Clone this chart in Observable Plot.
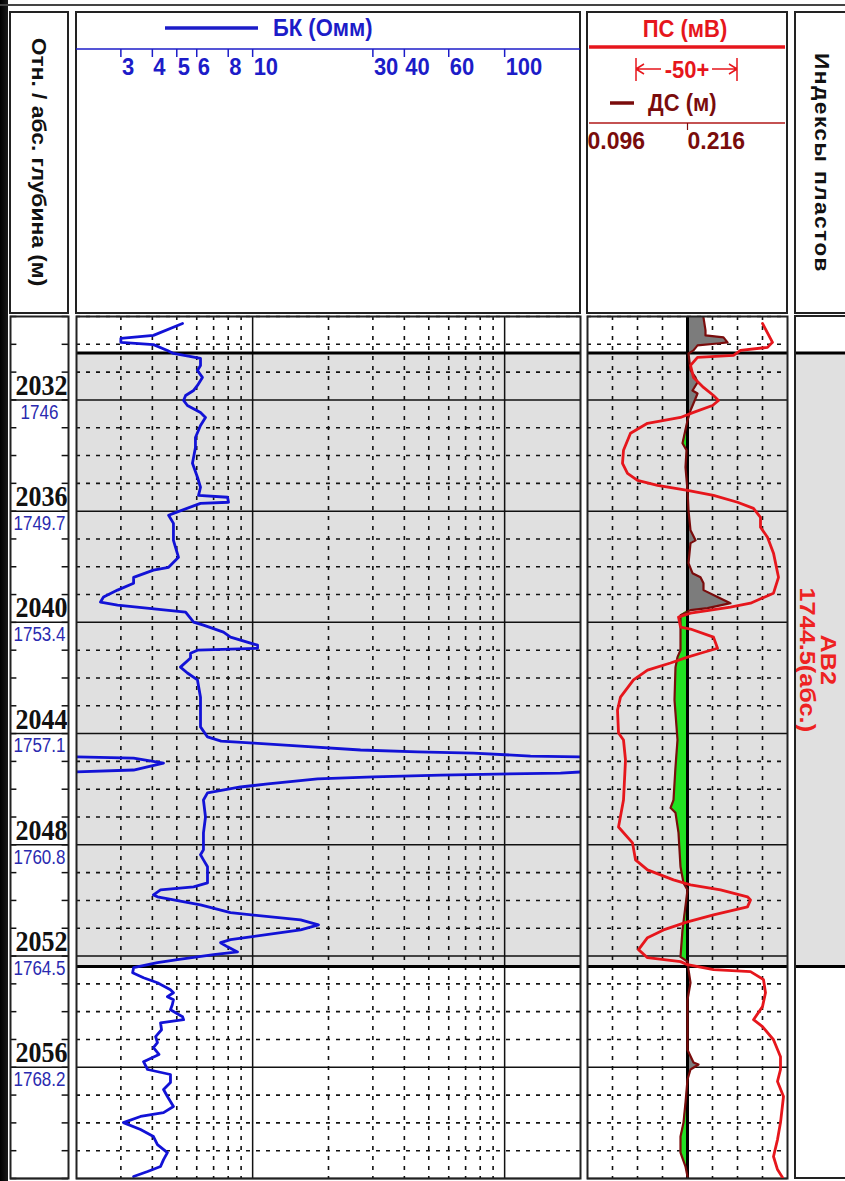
<!DOCTYPE html>
<html><head><meta charset="utf-8">
<script src="https://cdn.jsdelivr.net/npm/d3@7"></script>
<script src="https://cdn.jsdelivr.net/npm/@observablehq/plot@0.6"></script>
<style>
body{margin:0;background:#fff;}
#root{position:relative;width:845px;height:1181px;overflow:hidden;background:#fff;font-family:"Liberation Sans",Arial,sans-serif;}
</style></head><body><div id="root"></div>
<script>
// ---------------- DATA ----------------
const depthDomain = [2029, 2060];
const bkDomain = [2, 200];            // БК, Ом·м, log scale
const dsDomain = [0.096, 0.336];      // ДС, м
const psDomain = [-100, 0];           // ПС, мВ (50 мВ per half-track)
const bitSize = 0.216;

const bkDepth = [2029.25,2029.68,2029.79,2029.93,2030.01,2030.22,2030.33,2030.51,2030.76,2030.94,
2031.19,2031.48,2031.66,2031.84,2032.02,2032.20,2032.45,2032.63,2032.92,2033.35,
2033.71,2034.28,2034.78,2035.14,2035.43,2035.50,2035.68,2035.72,2036.08,2036.15,
2036.44,2037.05,2037.66,2038.02,2038.12,2038.38,2038.59,2038.84,2039.09,2039.27,
2039.38,2039.63,2039.99,2040.10,2040.35,2040.53,2040.82,2040.93,2041.00,2041.11,
2041.28,2041.61,2041.82,2042.07,2042.69,2043.76,2044.12,2044.27,2044.34,2044.45,
2044.59,2044.66,2044.70,2044.81,2044.84,2044.88,2045.06,2045.31,2045.38,2045.42,
2045.49,2045.56,2045.63,2045.81,2045.92,2046.13,2046.39,2047.00,2047.57,2048.18,
2048.36,2048.54,2048.79,2049.37,2049.51,2049.62,2049.80,2049.87,2050.16,2050.44,
2050.70,2050.88,2051.06,2051.41,2051.52,2051.67,2051.85,2051.95,2052.13,2052.24,
2052.42,2052.60,2052.78,2052.96,2053.21,2053.32,2053.46,2053.57,2053.75,2053.93,
2054.18,2054.29,2054.40,2054.65,2054.90,2055.11,2055.29,2055.54,2055.80,2056.08,
2056.26,2056.55,2056.80,2057.05,2057.41,2057.63,2057.77,2057.99,2058.24,2058.49,
2058.78,2059.07,2059.32,2059.57,2059.75,2059.93];
const bkValue = [5.27,4.04,3.0,3.0,4.04,4.59,4.85,6.21,6.21,6.04,
6.32,6.04,5.83,5.42,5.32,5.51,6.21,6.50,6.21,5.93,
5.93,5.77,6.04,6.21,6.10,7.95,8.02,6.21,4.85,4.64,
4.85,4.85,5.08,4.64,4.04,3.37,3.37,2.91,2.56,2.49,
2.91,5.42,5.83,6.38,7.66,8.17,10.46,10.46,6.04,5.67,
5.67,5.17,5.51,6.04,6.21,6.21,6.62,7.5,10.1,15.5,
26.8,45.1,75.2,126.7,200,337,443,337,200,166.6,
55.7,30.2,18.1,11.5,8.95,6.62,6.38,6.50,6.38,6.38,
6.21,6.38,6.62,6.62,5.83,4.31,4.04,4.19,6.21,8.17,
15.5,18.25,15.5,8.17,7.46,7.95,8.71,7.00,5.03,4.19,
3.37,3.34,3.69,4.19,4.72,4.85,4.59,4.85,4.80,4.72,
5.27,5.32,4.31,4.35,4.12,4.19,4.04,4.25,3.69,3.83,
4.72,4.72,4.43,4.59,4.85,4.43,3.59,3.07,3.59,4.04,
4.19,4.59,4.43,4.31,3.83,3.37];

const psDepth = [2029.25,2029.93,2030.11,2030.22,2030.40,2030.47,2030.76,2031.19,2031.55,2031.84,
2032.02,2032.20,2032.45,2032.63,2032.84,2033.20,2033.81,2034.28,2034.64,2034.89,
2035.07,2035.25,2035.43,2035.68,2035.90,2036.22,2036.58,2036.94,2037.51,2038.38,
2038.95,2039.31,2039.45,2039.67,2039.81,2040.17,2040.24,2040.53,2040.93,2041.11,
2041.25,2041.46,2041.72,2042.07,2042.69,2043.15,2043.98,2044.23,2044.95,2046.39,
2047.36,2047.93,2048.54,2048.90,2049.26,2049.44,2049.62,2049.87,2049.98,2050.23,
2050.52,2050.77,2051.06,2051.34,2051.77,2052.06,2052.20,2052.31,2052.49,2052.56,
2052.85,2053.32,2053.82,2054.29,2054.54,2055.01,2055.62,2056.08,2056.51,2057.05,
2057.99,2058.60,2059.21,2059.68,2059.96];
const psValue = [-12.5,-7.5,-10,-23.5,-27,-45,-48.5,-47,-42,-37,
-34.5,-37.5,-47,-53.5,-70,-78.5,-82,-82.5,-80,-75,
-65,-50,-37,-25,-17,-13.5,-13.5,-10,-7,-4.5,
-7,-18.5,-28.5,-48.5,-54.5,-53.5,-48.5,-37,-35,-43.5,
-50,-58.5,-70,-77,-83.5,-85,-84.5,-82,-81,-82,
-84.5,-77.5,-76,-70,-57,-48.5,-33.5,-20,-18.5,-20,
-37,-50,-62,-70,-74.5,-70,-53.5,-50,-37,-18.5,
-12,-11,-12.5,-17,-12.5,-7,-3.5,-3.5,-5,-2,
-3.5,-5,-7,-5,-2.5];

const dsDepth = [2029.04,2029.50,2029.68,2029.75,2029.93,2029.97,2030.04,2030.22,2030.33,2030.94,
2031.19,2031.37,2031.66,2031.77,2031.95,2032.38,2032.74,2033.56,2033.81,2034.42,
2035.25,2035.97,2036.69,2037.05,2037.15,2037.87,2038.23,2038.38,2038.59,2038.84,
2039.09,2039.31,2039.49,2039.56,2039.74,2040.17,2041.00,2041.25,2041.61,2042.79,
2044.23,2045.20,2046.39,2046.67,2046.85,2047.57,2048.79,2049.37,2049.62,2051.06,
2052.03,2052.20,2052.49,2052.96,2053.57,2055.37,2055.83,2055.90,2056.08,2056.44,
2057.27,2057.99,2058.49,2059.07,2059.57,2059.93];
const dsValue = [.2352,.2376,.2376,.2592,.264,.252,.228,.2232,.2172,.2196,
.2256,.228,.222,.228,.2256,.2196,.216,.210,.2148,.2136,
.216,.2172,.2196,.2256,.2196,.2172,.222,.2316,.2352,.2352,
.252,.2676,.240,.2196,.2076,.2076,.2076,.204,.2016,.2004,
.204,.2016,.1992,.1956,.2016,.2052,.2076,.2112,.216,.210,
.2076,.216,.2172,.2196,.216,.216,.2232,.2292,.2196,.216,
.2136,.2112,.2076,.2076,.2136,.216];

const relDepthLabels = [2032,2036,2040,2044,2048,2052,2056];
const absDepthLabels = ["1746","1749.7","1753.4","1757.1","1760.8","1764.5","1768.2"];
const bkTicks = [3,4,5,6,8,10,30,40,60,100];
const bkGridMinor = [3,4,5,6,7,8,9,20,30,40,50,60,70,80,90];
const bkGridMajor = [10,100];
const dsTicks = [0.096, 0.216];
const dsGrid = [0.126,0.156,0.186,0.246,0.276,0.306];
const formations = [{name:"АВ2", topAbs:"1744.5(абс.)", top:2030.31, bottom:2052.38}];

// ---------------- STYLE ----------------
const H = 862, TOP = 316;
const blue = "#1c1cc8", bkColor = "#1212d6", red = "#e6161c", dsColor = "#7a0c0c";
const band = "#e0e0e0";
const SANS = '"Liberation Sans",Arial,sans-serif';

const bk = bkDepth.map((d,i)=>({d, v: bkValue[i]}));
const bkWrap = bk.filter(p => p.v >= bkDomain[1]).map(p => ({d: p.d, v: p.v / 100}));
const ps = psDepth.map((d,i)=>({d, v: psValue[i]}));
const ds = dsDepth.map((d,i)=>({d, v: dsValue[i]}));
const meters = d3.range(depthDomain[0], depthDomain[1] + 1);
const minorM = meters.filter(m => m % 4 !== 0);
const majorM = meters.filter(m => m % 4 === 0);
const depthMarks = relDepthLabels.map((r,i)=>({rel:r, abs:absDepthLabels[i]}));

const root = document.getElementById("root");
function place(node, left, top) {
  node.style.position = "absolute"; node.style.left = left + "px"; node.style.top = top + "px";
  root.appendChild(node); return node;
}
function stretch(svg, sx, sy) {
  svg.querySelectorAll("text").forEach(t => {
    const tr = t.getAttribute("transform") || "";
    t.setAttribute("transform", tr + ` scale(${sx},${sy})`);
  });
}
const yScale = {domain: depthDomain, range: [0, H], axis: null};
const pstyle = {overflow: "visible", background: "none"};
const dash = {stroke: "#111", strokeWidth: 1.6, strokeDasharray: "4,6"};

// left dark strip
const strip = document.createElement("div");
strip.style.cssText = "width:8px;height:1181px;background:linear-gradient(90deg,#000,#1a1a1a);";
place(strip, 0, 0);

// ---------------- HEADER ----------------
const hdr = d3.create("svg").attr("width", 845).attr("height", 316);
hdr.append("line").attr("x1",0).attr("x2",845).attr("y1",5).attr("y2",5).attr("stroke","#444").attr("stroke-width",2);
[[10,58],[76,504],[587,200],[795,70]].forEach(([x,w]) =>
  hdr.append("rect").attr("x",x).attr("y",12).attr("width",w).attr("height",301)
     .attr("fill","none").attr("stroke","#222").attr("stroke-width",2));
function txt(x, y, s, o = {}) {
  const st = o.s || 1.08;
  return hdr.append("text").attr("transform", `translate(${x},${y}) ${o.rot ? "rotate(90) scale(" + st + ",1)" : "scale(1," + st + ")"}`)
    .attr("text-anchor", o.anchor || "middle").attr("dominant-baseline", "central")
    .attr("font-family", SANS).attr("font-weight", "bold")
    .attr("font-size", o.size || 18).attr("fill", o.fill || "#111").attr("letter-spacing", o.ls || 0).text(s);
}
txt(39, 162, "Отн. / абс. глубина (м)", {rot: true, size: 20, s: 1.14});
txt(822, 163, "Индексы  пластов", {rot: true, size: 20, ls: 1.2, s: 1.14});
// BK legend
hdr.append("line").attr("x1",165).attr("x2",258).attr("y1",28).attr("y2",28).attr("stroke",blue).attr("stroke-width",3.5);
txt(273, 28, "БК (Омм)", {anchor: "start", fill: blue, size: 22});
hdr.append("line").attr("x1",76).attr("x2",580).attr("y1",49).attr("y2",49).attr("stroke",blue).attr("stroke-width",1.5);
// PS legend
txt(685, 29, "ПС (мВ)", {fill: red, size: 22});
hdr.append("line").attr("x1",589).attr("x2",785).attr("y1",47).attr("y2",47).attr("stroke",red).attr("stroke-width",3.5);
const ar = hdr.append("g").attr("stroke", red).attr("stroke-width", 1.5).attr("fill", "none");
ar.append("path").attr("d", "M636,58V81M636,69H661M636,69l8,-5M636,69l8,5");
ar.append("path").attr("d", "M737,58V81M737,69H712M737,69l-8,-5M737,69l-8,5");
txt(687, 70, "-50+", {fill: red, size: 22});
hdr.append("line").attr("x1",610).attr("x2",634).attr("y1",103).attr("y2",103).attr("stroke",dsColor).attr("stroke-width",3.5);
txt(648, 103, "ДС (м)", {anchor: "start", fill: dsColor, size: 22});
hdr.append("line").attr("x1",589).attr("x2",785).attr("y1",123).attr("y2",123).attr("stroke","#b01818").attr("stroke-width",1.5);
place(hdr.node(), 0, 0);

// BK header axis
const bkHead = Plot.plot({
  width: 504, height: 40, margin: 0, style: pstyle,
  x: {type: "log", domain: bkDomain, axis: null}, y: {type: "identity", axis: null},
  marks: [
    Plot.ruleX(bkTicks, {x: d => d, y1: 0, y2: 8, stroke: blue, strokeWidth: 1.5}),
    Plot.text(bkTicks, {x: d => d, y: 9, text: d => String(d), textAnchor: "start", lineAnchor: "top", dx: 1,
      fill: blue, fontSize: 22, fontWeight: "bold", fontFamily: SANS})
  ]
});
stretch(bkHead, 1, 1.08);
place(bkHead, 76, 49);

// DS header axis
const dsHead = Plot.plot({
  width: 200, height: 40, margin: 0, style: pstyle,
  x: {domain: dsDomain, axis: null}, y: {type: "identity", axis: null},
  marks: [
    Plot.ruleX([bitSize], {x: d => d, y1: 0, y2: 7, stroke: dsColor, strokeWidth: 1.2}),
    Plot.text(dsTicks, {x: d => d, y: 8, text: d => d3.format(".3f")(d), textAnchor: "start", lineAnchor: "top",
      fill: dsColor, fontSize: 23, fontWeight: "bold", fontFamily: SANS})
  ]
});
stretch(dsHead, 1, 1.05);
place(dsHead, 587, 123);

// ---------------- DEPTH TRACK ----------------
const depthPlot = Plot.plot({
  width: 58, height: H, margin: 0, style: pstyle,
  x: {domain: [0, 1], axis: null}, y: yScale,
  marks: [
    Plot.ruleY(meters, {x1: 0, x2: 0.11, stroke: "#111", strokeWidth: 1.5}),
    Plot.ruleY(meters, {x1: 0.89, x2: 1, stroke: "#111", strokeWidth: 1.5}),
    Plot.ruleY(majorM, {stroke: "#111", strokeWidth: 1.5}),
    Plot.text(depthMarks, {y: "rel", text: d => String(d.rel), frameAnchor: "right", textAnchor: "end", lineAnchor: "bottom",
      dx: -1, dy: -5, fontSize: 26, fontWeight: "bold", fill: "#111", fontFamily: '"Liberation Serif","Times New Roman",serif'}),
    Plot.text(depthMarks, {y: "rel", text: "abs", frameAnchor: "middle", textAnchor: "middle", lineAnchor: "top",
      dy: 5, fontSize: 17, fill: "#2a2ab0", fontFamily: SANS}),
    Plot.frame({stroke: "#222", strokeWidth: 2})
  ]
});
stretch(depthPlot, 1, 1.15);
place(depthPlot, 10, TOP);

// ---------------- BK TRACK ----------------
const bkPlot = Plot.plot({
  width: 504, height: H, margin: 0, style: pstyle,
  x: {type: "log", domain: bkDomain, axis: null}, y: yScale,
  marks: [
    Plot.rect(formations, {y1: "top", y2: "bottom", fill: band}),
    Plot.ruleY(minorM, dash),
    Plot.ruleX(bkGridMinor, dash),
    Plot.ruleY(majorM, {stroke: "#111", strokeWidth: 1.5}),
    Plot.ruleX(bkGridMajor, {stroke: "#111", strokeWidth: 1.5}),
    Plot.ruleY(formations.flatMap(f => [f.top, f.bottom]), {stroke: "#000", strokeWidth: 3}),
    Plot.line(bk, {x: "v", y: "d", stroke: bkColor, strokeWidth: 2.8, clip: true}),
    Plot.line(bkWrap, {x: "v", y: "d", stroke: bkColor, strokeWidth: 2.8, clip: true}),
    Plot.frame({stroke: "#222", strokeWidth: 2})
  ]
});
place(bkPlot, 76, TOP);

// ---------------- PS / DS TRACK ----------------
const dsPlot = Plot.plot({
  width: 200, height: H, margin: 0, style: pstyle,
  x: {domain: dsDomain, axis: null}, y: yScale,
  marks: [
    Plot.rect(formations, {y1: "top", y2: "bottom", fill: band}),
    Plot.ruleY(minorM, dash),
    Plot.ruleX(dsGrid, dash),
    Plot.ruleY(majorM, {stroke: "#111", strokeWidth: 1.5}),
    Plot.ruleY(formations.flatMap(f => [f.top, f.bottom]), {stroke: "#000", strokeWidth: 3}),
    Plot.areaX(ds, {y: "d", x1: () => bitSize, x2: p => Math.max(p.v, bitSize), fill: "#7c7c7c"}),
    Plot.areaX(ds, {y: "d", x1: () => bitSize, x2: p => Math.min(p.v, bitSize), fill: "#22e022"}),
    Plot.ruleX([bitSize], {stroke: "#000", strokeWidth: 3}),
    Plot.line(ds, {x: "v", y: "d", stroke: dsColor, strokeWidth: 2.2}),
    Plot.frame({stroke: "#222", strokeWidth: 2})
  ]
});
place(dsPlot, 587, TOP);
const psPlot = Plot.plot({
  width: 200, height: H, margin: 0, style: pstyle,
  x: {domain: psDomain, axis: null}, y: yScale,
  marks: [
    Plot.line(ps, {x: "v", y: "d", stroke: red, strokeWidth: 2.8, clip: true})
  ]
});
place(psPlot, 587, TOP);

// ---------------- INDEX TRACK ----------------
const idxPlot = Plot.plot({
  width: 70, height: H, margin: 0, style: pstyle,
  x: {domain: [0, 1], axis: null}, y: yScale,
  marks: [
    Plot.rect(formations, {y1: "top", y2: "bottom", fill: band}),
    Plot.ruleY(formations.flatMap(f => [f.top, f.bottom]), {stroke: "#000", strokeWidth: 3}),
    Plot.text(formations, {y: f => (f.top + f.bottom) / 2, text: f => f.name + "\n" + f.topAbs, rotate: 90,
      frameAnchor: "middle", dx: -13, fill: "#ee2222", fontSize: 22, fontWeight: "bold", lineHeight: 0.95,
      fontFamily: SANS})
  ]
});
stretch(idxPlot, 1.15, 1);
place(idxPlot, 795, TOP);
// index track left/top/bottom border
const idxFrame = document.createElement("div");
idxFrame.style.cssText = "width:70px;height:" + (H - 2) + "px;border:2px solid #222;box-sizing:content-box;";
place(idxFrame, 794, TOP - 1);
</script></body></html>
